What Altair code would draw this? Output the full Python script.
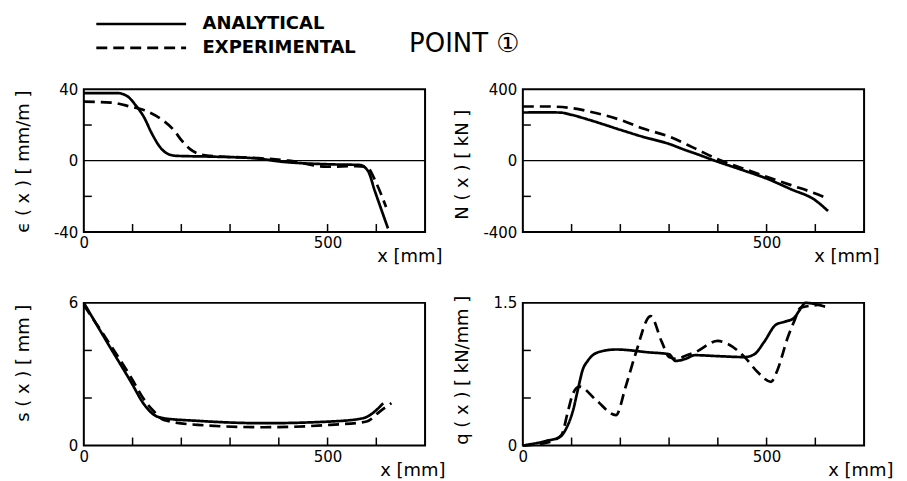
import altair as alt
import pandas as pd

SERIES = ["ANALYTICAL", "EXPERIMENTAL"]

# strain eps(x) [mm/m]
eps_x_an = [0, 69, 90, 106, 123, 140, 157, 174, 191, 259, 354, 400, 500, 566, 583, 597, 624]
eps_an = [37.9, 37.9, 36, 31.2, 24.6, 15, 7.4, 3.6, 2.7, 2.3, 1.3, -0.4, -2, -2.4, -5.8, -17, -38]
eps_x_ex = [0, 56, 96, 123, 157, 185, 201, 218, 238, 259, 354, 420, 500, 559, 580, 600, 620]
eps_ex = [33.1, 32.6, 30.3, 28.4, 23.6, 17, 11.2, 6.5, 3.6, 2.7, 1.5, 0, -3.4, -3, -3.4, -12.6, -26]

# normal force N(x) [kN]
n_x_an = [0, 40, 76, 100, 136, 200, 245, 300, 333, 353, 400, 450, 500, 550, 600, 626]
n_an = [270, 271, 270, 257, 229, 173, 135, 94, 60, 41, -6, -52, -100, -160, -222, -282]
n_x_ex = [0, 50, 100, 136, 200, 245, 300, 353, 400, 450, 500, 550, 600, 617]
n_ex = [304, 304, 295, 276, 229, 182, 135, 69, 8, -42, -90, -137, -184, -203]

# slip s(x) [mm]
s_x_an = [0, 49, 96, 124, 144, 164, 233, 369, 505, 573, 593, 614]
s_an = [6.0, 4.3, 2.7, 1.72, 1.29, 1.15, 1.04, 0.94, 1.01, 1.15, 1.37, 1.78]
s_x_ex = [0, 49, 96, 124, 144, 164, 233, 369, 505, 580, 607, 631]
s_ex = [5.9, 4.4, 2.9, 1.92, 1.43, 1.08, 0.87, 0.77, 0.87, 1.01, 1.43, 1.78]

# bond flow q(x) [kN/mm]
q_x_an = [0, 49, 76, 89, 103, 113, 123, 133, 154, 191, 258, 300, 313, 333, 353, 400, 455, 475, 495, 519, 536, 556, 566, 580, 620]
q_an = [0, 0.05, 0.09, 0.18, 0.37, 0.59, 0.8, 0.89, 0.98, 1.01, 0.98, 0.96, 0.89, 0.91, 0.95, 0.94, 0.93, 0.96, 1.09, 1.27, 1.30, 1.34, 1.41, 1.50, 1.46]
q_x_ex = [0, 49, 79, 93, 103, 116, 150, 191, 211, 231, 262, 285, 300, 316, 336, 353, 400, 420, 455, 482, 509, 522, 543, 556, 570, 613]
q_ex = [0, 0.03, 0.11, 0.37, 0.55, 0.62, 0.48, 0.32, 0.62, 0.96, 1.36, 1.09, 0.93, 0.91, 0.95, 0.98, 1.10, 1.07, 0.93, 0.77, 0.67, 0.79, 1.13, 1.30, 1.45, 1.48]

X_TICKS = [100, 200, 300, 400, 500, 600]

W, H = 342, 143
FONT = "DejaVu Sans"

legend = alt.Legend(
    orient="none", legendX=47, legendY=-76,
    title="POINT ①", titleOrient="right", titleAnchor="end",
    titleBaseline="bottom", titleFont=FONT, titleFontSize=26, titleFontWeight="normal",
    titleColor="black", titlePadding=53,
    symbolType="M-5,0H5", symbolSize=324, symbolStrokeWidth=2.7,
    symbolStrokeColor="black", labelFontSize=18, labelFontWeight="bold",
    labelFont=FONT, labelOffset=51, rowPadding=4, padding=0, labelColor="black",
)


def panel(xa, ya, xe, ye, ydom, ylabels, yticks, xlabels, ytitle, ytitle_y,
          xtitle_dx, zero_line, ylab_fmt):
    df = pd.concat([
        pd.DataFrame({"x": xa, "y": ya, "series": SERIES[0]}),
        pd.DataFrame({"x": xe, "y": ye, "series": SERIES[1]}),
    ])
    xscale = alt.Scale(domain=[0, 700], nice=False, zero=False)
    yscale = alt.Scale(domain=ydom, nice=False, zero=False)
    xaxis = alt.Axis(
        values=xlabels, ticks=False, domain=False, grid=False,
        labelFlush=False, labelOverlap=False, labelFontSize=15, labelPadding=4,
        labelFont=FONT, labelColor="black",
        title="x [mm]", titleFont=FONT, titleFontSize=18, titleFontWeight="normal",
        titleColor="black", titleAlign="right", titleAnchor="start",
        titleX=W + xtitle_dx, titleY=30, titleBaseline="alphabetic",
    )
    yaxis = alt.Axis(
        values=ylabels, ticks=False, domain=False, grid=False,
        labelFlush=False, labelOverlap=False, labelFontSize=15, labelPadding=6,
        labelFont=FONT, labelColor="black", labelExpr=ylab_fmt,
        title=ytitle, titleFont=FONT, titleFontSize=18, titleFontWeight="normal",
        titleColor="black", titleX=-60, titleY=ytitle_y, titleAngle=270,
        titleAlign="center", titleBaseline="middle",
    )
    lines = alt.Chart(df).mark_line(color="black", strokeWidth=2.7, interpolate="monotone").encode(
        x=alt.X("x:Q", scale=xscale, axis=xaxis),
        y=alt.Y("y:Q", scale=yscale, axis=yaxis),
        strokeDash=alt.StrokeDash(
            "series:N",
            scale=alt.Scale(domain=SERIES, range=[[1, 0], [11, 6]]),
            legend=legend,
        ),
    )
    xt = alt.Chart(pd.DataFrame({"x": X_TICKS})).mark_rule(color="black", strokeWidth=1.5).encode(
        x=alt.X("x:Q"), y=alt.value(H), y2=alt.value(H - 8)
    )
    yt = alt.Chart(pd.DataFrame({"y": yticks})).mark_rule(color="black", strokeWidth=1.5).encode(
        y=alt.Y("y:Q"), x=alt.value(0), x2=alt.value(8)
    )
    layers = [lines, xt, yt]
    if zero_line:
        zl = alt.Chart(pd.DataFrame({"y": [0]})).mark_rule(color="black", strokeWidth=1.2).encode(
            y=alt.Y("y:Q")
        )
        layers.append(zl)
    return alt.layer(*layers).properties(width=W, height=H)


neg_fmt = "datum.value < 0 ? '-' + toString(-datum.value) : toString(datum.value)"

p1 = panel(eps_x_an, eps_an, eps_x_ex, eps_ex, [-40, 40], [-40, 0, 40], [-20, 20],
           [0, 500], "ϵ ( x )  [ mm/m ]", 72, 17, True, neg_fmt)
p2 = panel(n_x_an, n_an, n_x_ex, n_ex, [-400, 400], [-400, 0, 400], [-200, 200],
           [500], "N ( x )     [ kN ]", 75, 15, True, neg_fmt)
p3 = panel(s_x_an, s_an, s_x_ex, s_ex, [0, 6], [0, 6], [2, 4],
           [0, 500], "s ( x )      [ mm ]", 60, 20, False, neg_fmt)
p4 = panel(q_x_an, q_an, q_x_ex, q_ex, [0, 1.5], [0, 1.5], [0.5, 1.0],
           [0, 500], "q ( x )  [ kN/mm ]", 67, 29, False, neg_fmt)

chart = alt.concat(
    p1, p2, p3, p4, columns=2, spacing={"row": 71, "column": 98}, bounds="flush",
).configure_view(
    stroke="black", strokeWidth=2
)

chart.save("out.html", embed_options={"renderer": "svg", "actions": False})
